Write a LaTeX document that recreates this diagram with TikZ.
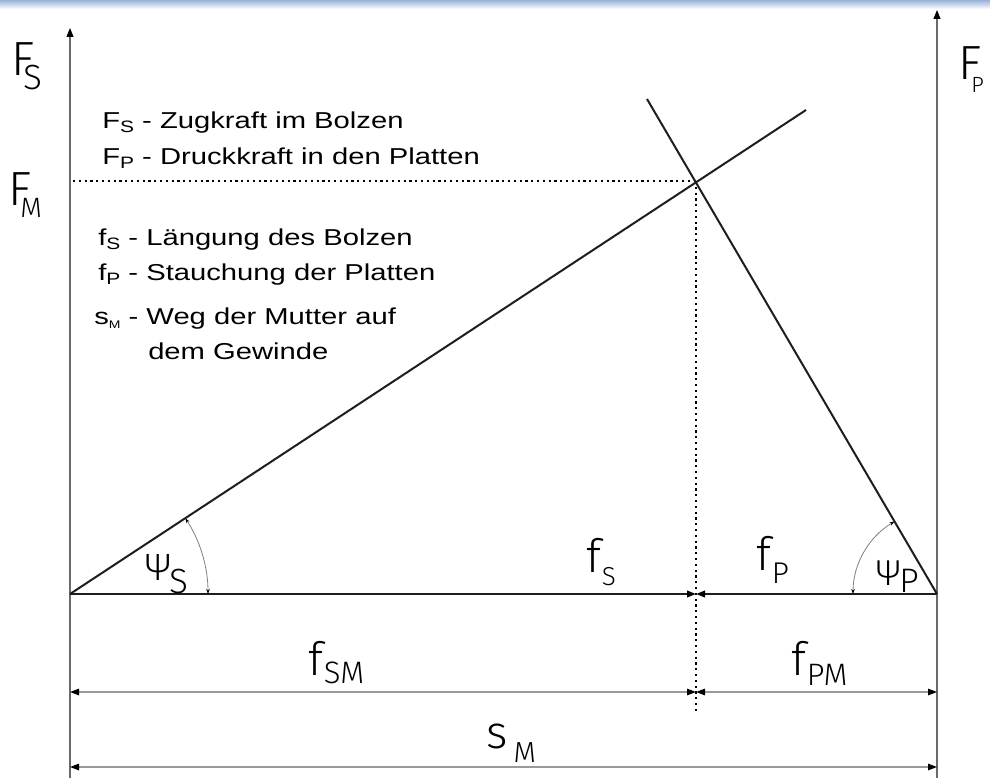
\documentclass[tikz,border=0pt]{standalone}
\usepackage{fontspec}
\setmainfont{Liberation Sans}
\newfontfamily\lightf{Fira Sans Light}
\usetikzlibrary{arrows.meta,calc}
\definecolor{barblue}{HTML}{98B2DA}
\definecolor{axisgray}{HTML}{6A6A6A}
\definecolor{dimgray}{HTML}{9A9A9A}
\definecolor{ink}{HTML}{1E1E1E}
\newcommand\lsub[3]{\raisebox{#1}{\fontsize{#2}{#2}\selectfont #3}}
\tikzset{
  legend/.style={anchor=base west, inner sep=0pt, font=\fontsize{23}{23}\selectfont, xscale=1.27},
  biglabel/.style={anchor=base west, inner sep=0pt, font=\lightf\fontsize{48}{48}\selectfont},
  mainline/.style={draw=ink, line width=2pt},
  axisline/.style={draw=axisgray, line width=1.1pt, -{Triangle[length=9pt,width=7pt,color=black]}},
  dimline/.style={draw=dimgray, line width=1.3pt, {Triangle[length=9pt,width=6.5pt,color=black]}-{Triangle[length=9pt,width=6.5pt,color=black]}},
  baseline/.style={draw=ink, line width=2pt, -{Triangle[length=9pt,width=6.5pt,color=black]}},
  dotline/.style={draw=black, line width=1.2pt, dash pattern=on 2.2pt off 3.6pt},
  anglearc/.style={draw=gray, line width=0.8pt, {Stealth[length=5pt,width=3.5pt,color=black]}-{Stealth[length=5pt,width=3.5pt,color=black]}}
}
\begin{document}
\begin{tikzpicture}[x=1pt,y=-1pt]
\useasboundingbox (0,0) rectangle (990,778);
\fill[white] (0,0) rectangle (990,778);
\shade[top color=barblue, bottom color=white] (0,0) rectangle (990,9);

% coordinates
\coordinate (O) at (70,594);
\coordinate (E) at (937,594);
\coordinate (I) at (696,181);
\coordinate (Mid) at (696,594);
\coordinate (Send) at (806,110);
\coordinate (Pstart) at (647,99);
\coordinate (Ltop) at (70,28);
\coordinate (Lbot) at (70,778);
\coordinate (Rtop) at (937,10);
\coordinate (Rbot) at (937,778);
\coordinate (Hl) at (73,181);
\coordinate (Vb) at (696,712);
\coordinate (A1) at (70,692);
\coordinate (A2) at (696,692);
\coordinate (A3) at (937,692);
\coordinate (B1) at (70,767);
\coordinate (B2) at (937,767);
\coordinate (ArcS) at (208,594);
\coordinate (ArcP) at (853,594);

% axes
\draw[axisline] (Lbot) -- (Ltop);
\draw[axisline] (Rbot) -- (Rtop);

% dotted helper lines
\draw[dotline] (Hl) -- (I);
\draw[dotline] (I) -- (Vb);

% characteristic lines
\draw[mainline] (O) -- (Send);
\draw[mainline] (Pstart) -- (E);

% base line with arrows meeting at Mid
\draw[baseline] (O) -- (Mid);
\draw[baseline] (E) -- (Mid);

% dimension lines
\draw[dimline] (A1) -- (A2);
\draw[dimline] (A2) -- (A3);
\draw[dimline] (B1) -- (B2);

% angle arcs
\draw[anglearc] (ArcS) arc[start angle=0, end angle=-33.3, radius=138];
\draw[anglearc] (ArcP) arc[start angle=180, end angle=239.6, radius=84];

% axis labels
\node[biglabel] (FS) at (11,76) {F\kern-11pt\lsub{-14pt}{35}{S}};
\node[biglabel] (FM) at (8,205) {F\kern-11pt\lsub{-13pt}{28}{M}};
\node[biglabel] (FP) at (958,80) {F\kern-10pt\lsub{-13pt}{22}{P}};

% legend
\node[legend] (L1) at (102,129) {F\lsub{-4pt}{16.5}{S} - Zugkraft im Bolzen};
\node[legend] (L2) at (102,165) {F\lsub{-4pt}{16.5}{P} - Druckkraft in den Platten};
\node[legend] (L3) at (98,245) {f\lsub{-4pt}{16.5}{S} - Längung des Bolzen};
\node[legend] (L4) at (98,280) {f\lsub{-4pt}{16.5}{P} - Stauchung der Platten};
\node[legend] (L5) at (94,324) {s\lsub{-4pt}{11}{M} - Weg der Mutter auf};
\node[legend] (L6) at (148,359) {dem Gewinde};

% diagram labels
\node[biglabel, font=\lightf\fontsize{38}{38}\selectfont] (PsiS) at (145,580) {Ψ\kern-1pt\lsub{-13pt}{35}{S}};
\node[biglabel, font=\lightf\fontsize{36}{36}\selectfont] (PsiP) at (876,585) {Ψ\kern-1pt\lsub{-7pt}{34}{P}};
\node[biglabel, font=\lightf\fontsize{46}{46}\selectfont] (fS) at (586,572) {f\kern1pt\lsub{-13pt}{26}{S}};
\node[biglabel, font=\lightf\fontsize{46}{46}\selectfont] (fP) at (756,570) {f\kern1pt\lsub{-13pt}{30}{P}};
\node[biglabel, font=\lightf\fontsize{46}{46}\selectfont] (fSM) at (308,675) {f\kern1pt\lsub{-8pt}{31}{SM}};
\node[biglabel, font=\lightf\fontsize{46}{46}\selectfont] (fPM) at (791,675) {f\kern1pt\lsub{-10pt}{31}{PM}};
\node[biglabel, font=\lightf\fontsize{46}{46}\selectfont] (sM) at (486,748) {s\kern6pt\lsub{-14pt}{29}{M}};
\end{tikzpicture}
\end{document}
